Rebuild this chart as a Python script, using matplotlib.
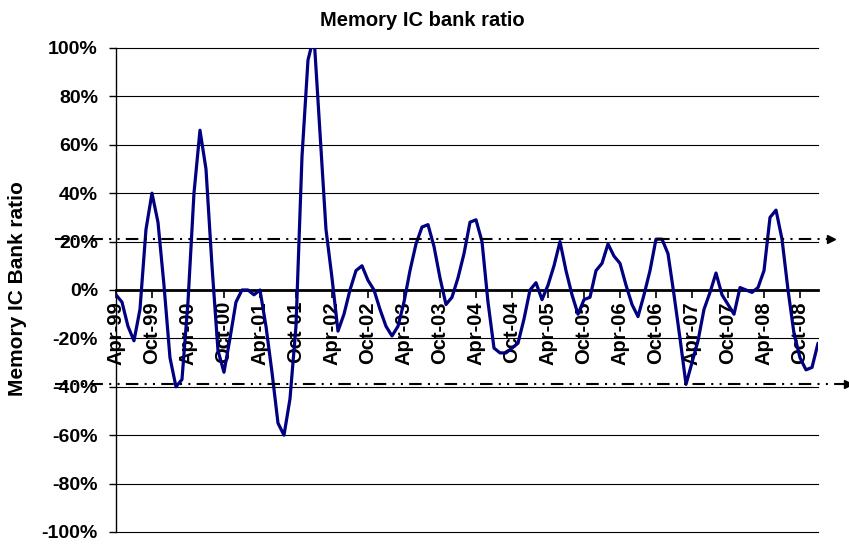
import numpy as np
import matplotlib.pyplot as plt
from matplotlib.transforms import blended_transform_factory

plt.rcParams['font.family'] = ['Liberation Sans', 'DejaVu Sans']
plt.rcParams['font.weight'] = 'bold'

# monthly memory IC bank ratio (%), Apr-99 .. Jan-09
ratio = [-2, -5, -15, -21, -8, 25, 40, 28, 2, -28, -40, -37,
         -5, 40, 66, 50, 10, -25, -34, -20, -5, 0, 0, -2,
         0, -15, -34, -55, -60, -45, -15, 55, 95, 105, 65, 25,
         5, -17, -10, 0, 8, 10, 4, 0, -8, -15, -19, -15,
         -5, 8, 19, 26, 27, 18, 5, -6, -3, 5, 15, 28,
         29, 20, -5, -24, -26, -26, -24, -22, -12, 0, 3, -4,
         2, 10, 20, 8, -2, -10, -4, -3, 8, 11, 19, 14,
         11, 2, -6, -11, -2, 8, 21, 21, 15, -2, -20, -39,
         -30, -21, -8, -1, 7, -2, -6, -10, 1, 0, -1, 1,
         8, 30, 33, 21, 0, -18, -28, -33, -32, -22]

tick_labels = ['Apr-99', 'Oct-99', 'Apr-00', 'Oct-00', 'Apr-01', 'Oct-01',
               'Apr-02', 'Oct-02', 'Apr-03', 'Oct-03', 'Apr-04', 'Oct-04',
               'Apr-05', 'Oct-05', 'Apr-06', 'Oct-06', 'Apr-07', 'Oct-07',
               'Apr-08', 'Oct-08']
y_ticks = [-100, -80, -60, -40, -20, 0, 20, 40, 60, 80, 100]
upper_band = 21
lower_band = -39

fig = plt.figure(figsize=(8.49, 5.44), dpi=100)
ax = fig.add_axes([0.1366, 0.0221, 0.8269, 0.8897])

x = np.arange(len(ratio))
ax.plot(x, ratio, color='#000080', lw=2.3, zorder=4,
        solid_joinstyle='round', solid_capstyle='round')

ax.set_xlim(0, len(ratio) - 1)
ax.set_ylim(-100, 100)

ax.set_yticks(y_ticks)
ax.set_yticklabels(['%d%%' % v for v in y_ticks])
ax.yaxis.grid(True, color='black', lw=0.8)
for gl in ax.get_ygridlines():
    gl.set_clip_on(False)
ax.set_axisbelow(True)

ax.set_xticks(np.arange(0, len(ratio), 6))
ax.set_xticklabels(tick_labels)

ax.spines['top'].set_visible(False)
ax.spines['right'].set_visible(False)
ax.spines['bottom'].set_position(('data', 0))
ax.spines['bottom'].set_linewidth(2)
ax.spines['bottom'].set_zorder(3)
ax.spines['left'].set_linewidth(1)
ax.tick_params(axis='y', direction='out', length=5, width=1, pad=8, labelsize=14)
ax.tick_params(axis='x', direction='out', length=6, width=1.2, pad=2,
               labelsize=14.5, labelrotation=90)
for lbl in ax.get_xticklabels():
    lbl.set_fontweight('bold')
    lbl.set_va('top')
    lbl.set_ha('center')
for lbl in ax.get_yticklabels():
    lbl.set_fontweight('bold')

# dash-dot-dot band lines with arrows
trans = blended_transform_factory(ax.transAxes, ax.transData)
dash = (0, (6, 3, 1, 3, 1, 3))
for y0, x_end in [(upper_band, 1.018), (lower_band, 1.043)]:
    ax.plot([-0.087, x_end], [y0, y0], transform=trans, color='black',
            lw=1.5, linestyle=dash, clip_on=False, zorder=5)
    ax.plot([x_end], [y0], transform=trans, marker='>', color='black',
            markersize=6, clip_on=False, zorder=5)

fig.text(0.498, 0.963, 'Memory IC bank ratio', ha='center', va='center',
         fontsize=14.5, fontweight='bold')
fig.text(0.021, 0.47, 'Memory IC Bank ratio', ha='center', va='center',
         rotation=90, fontsize=15, fontweight='bold')

fig.savefig('out.png', dpi=100)
